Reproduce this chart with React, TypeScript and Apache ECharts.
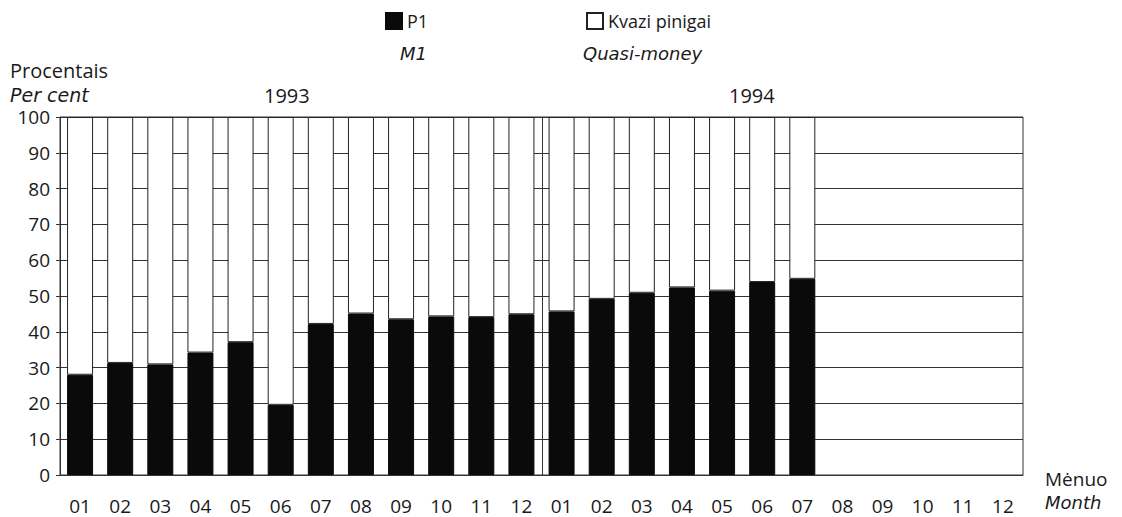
import React, { useEffect, useRef } from "react";
import * as echarts from "echarts";

const years = ["1993", "1994"];
const months = ["01", "02", "03", "04", "05", "06", "07", "08", "09", "10", "11", "12"];
const categories = years.flatMap((y) => months.map((m) => `${y}-${m}`));
// P1 (M1) share, per cent
const p1Values: (number | null)[] = [
  28.0, 31.3, 30.9, 34.2, 37.1, 19.6, 42.2, 45.1, 43.5, 44.3, 44.1, 44.9,
  45.7, 49.2, 50.9, 52.4, 51.5, 53.9, 54.8, null, null, null, null, null,
];
const quasiValues: (number | null)[] = p1Values.map((v) => (v == null ? null : +(100 - v).toFixed(1)));
const yTicks = [0, 10, 20, 30, 40, 50, 60, 70, 80, 90, 100];

const FONT = "'Open Sans', 'DejaVu Sans', sans-serif";
const IFONT = "'DejaVu Sans', 'Open Sans', sans-serif";
const INK = "#1a1a1a";

export default function App() {
  const ref = useRef<HTMLDivElement>(null);
  useEffect(() => {
    document.body.style.margin = "0";
    const chart = echarts.init(ref.current!, null, { renderer: "svg" });
    const baseGraphic = [
      { type: "text", left: 10, top: 60, style: { text: "Procentais", font: `20px ${FONT}`, fill: INK } },
      { type: "text", left: 10, top: 85, style: { text: "Per cent", font: `italic 19px ${IFONT}`, fill: INK } },
      { type: "text", left: 264, top: 85, style: { text: "1993", font: `20px ${FONT}`, fill: INK } },
      { type: "text", left: 729, top: 85, style: { text: "1994", font: `20px ${FONT}`, fill: INK } },
      { type: "text", left: 400, top: 44, style: { text: "M1", font: `italic 18px ${IFONT}`, fill: INK } },
      { type: "text", left: 583, top: 44, style: { text: "Quasi-money", font: `italic 18px ${IFONT}`, fill: INK } },
      { type: "text", left: 1045, top: 469, style: { text: "Mėnuo", font: `19px ${FONT}`, fill: INK } },
      { type: "text", left: 1045, top: 493, style: { text: "Month", font: `italic 18px ${IFONT}`, fill: INK } },
    ];
    chart.setOption({
      animation: false,
      backgroundColor: "#ffffff",
      textStyle: { fontFamily: FONT, color: INK },
      grid: {
        left: 60,
        right: 99,
        top: 117,
        bottom: 42,
        show: true,
        borderColor: "#333",
        borderWidth: 1,
        backgroundColor: "transparent",
      },
      legend: [
        {
          data: ["P1"],
          left: 380,
          top: 7,
          itemWidth: 16,
          itemHeight: 16,
          icon: "rect",
          textStyle: { fontFamily: FONT, fontSize: 18, color: INK },
        },
        {
          data: ["Kvazi pinigai"],
          left: 581,
          top: 7,
          itemWidth: 16,
          itemHeight: 16,
          icon: "rect",
          textStyle: { fontFamily: FONT, fontSize: 18, color: INK },
        },
      ],
      xAxis: {
        type: "category",
        data: categories,
        boundaryGap: true,
        axisLine: { show: true, lineStyle: { color: "#333", width: 1 } },
        axisTick: { show: false },
        axisLabel: {
          formatter: (v: string) => v.split("-")[1],
          fontFamily: FONT,
          fontSize: 19,
          color: INK,
          margin: 21,
          interval: 0,
        },
        splitLine: { show: false },
      },
      yAxis: {
        type: "value",
        min: 0,
        max: 100,
        interval: 10,
        axisLine: { show: true, lineStyle: { color: "#333", width: 1 } },
        axisTick: { show: true, length: 4, lineStyle: { color: "#333" } },
        axisLabel: {
          fontFamily: FONT,
          fontSize: 19,
          color: INK,
          margin: 10,
          formatter: (v: number) => (yTicks.includes(v) ? String(v) : ""),
        },
        splitLine: { show: true, lineStyle: { color: "#333", width: 1 } },
      },
      series: [
        {
          name: "P1",
          type: "bar",
          stack: "total",
          data: p1Values,
          barWidth: 26,
          itemStyle: { color: "#0a0a0a", borderColor: "#0a0a0a", borderWidth: 1 },
        },
        {
          name: "Kvazi pinigai",
          type: "bar",
          stack: "total",
          data: quasiValues,
          barWidth: 26,
          itemStyle: { color: "#ffffff", borderColor: "#222", borderWidth: 1 },
        },
      ],
      graphic: baseGraphic,
    });
    // year separator between Dec 1993 and Jan 1994
    const xa = chart.convertToPixel({ xAxisIndex: 0 }, categories[11]) as number;
    const xb = chart.convertToPixel({ xAxisIndex: 0 }, categories[12]) as number;
    const yTop = chart.convertToPixel({ yAxisIndex: 0 }, 100) as number;
    const yBot = chart.convertToPixel({ yAxisIndex: 0 }, 0) as number;
    const xs = Math.round((xa + xb) / 2) + 0.5;
    chart.setOption({
      graphic: [
        ...baseGraphic,
        {
          type: "line",
          shape: { x1: xs, y1: yTop, x2: xs, y2: yBot },
          style: { stroke: "#333", lineWidth: 1 },
          z: 10,
        },
      ],
    });
    return () => chart.dispose();
  }, []);
  return <div ref={ref} style={{ width: 1122, height: 517 }} />;
}
